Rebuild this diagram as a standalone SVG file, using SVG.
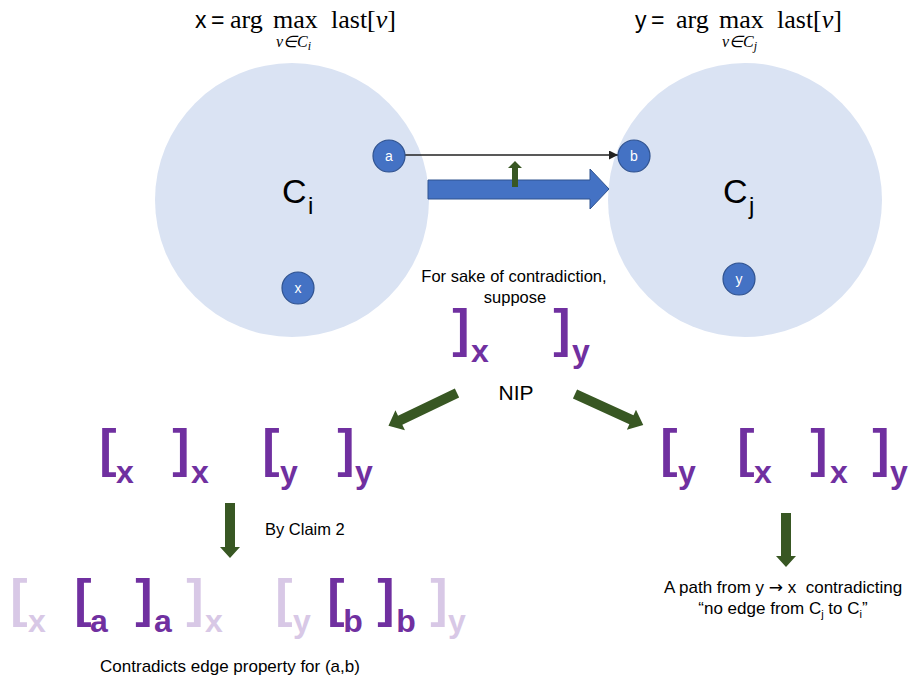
<svg xmlns="http://www.w3.org/2000/svg" width="912" height="685" viewBox="0 0 912 685">
<defs>
<style>
.cl{fill:#DAE3F3}
.nd{fill:#4472C4;stroke:#2F528F;stroke-width:1.2}
.nl{font-family:"Liberation Sans",Arial,sans-serif;font-size:14px;fill:#fff;text-anchor:middle}
.tx{font-family:"Liberation Sans",Arial,sans-serif;font-size:16.5px;fill:#000}
.big{font-family:"Liberation Sans",Arial,sans-serif;font-size:34px;fill:#000}
.mth{font-family:"Liberation Serif","Times New Roman",serif;font-size:26px;fill:#000}
.msb{font-family:"Liberation Serif","Times New Roman",serif;font-size:16px;font-style:italic;fill:#000}
.msn{font-family:"Liberation Sans",Arial,sans-serif;font-size:23px;fill:#000}
.it{font-style:italic}
.br{font-family:"Liberation Sans",Arial,sans-serif;font-weight:bold;font-size:52px;text-anchor:middle}
.sb{font-family:"Liberation Sans",Arial,sans-serif;font-weight:bold;font-size:32px;text-anchor:middle}
.dk{fill:#7030A0}
.lt{fill:#D8C8E6}
.gr{fill:#385723}
</style>
<marker id="ah" viewBox="0 0 10 10" refX="10" refY="5" markerWidth="9" markerHeight="9" markerUnits="userSpaceOnUse" orient="auto">
<path d="M0,0 L10,5 L0,10 z" fill="#222"/>
</marker>
</defs>

<g id="Ci"><circle class="cl" cx="292" cy="200" r="137"/>
<text class="big"><tspan x="282" y="203">C</tspan><tspan x="308" y="214" font-size="24">i</tspan></text></g>
<g id="Cj"><circle class="cl" cx="745" cy="200" r="137"/>
<text class="big"><tspan x="723" y="203">C</tspan><tspan x="749" y="214" font-size="24">j</tspan></text></g>

<g id="connectors">
<line x1="405" y1="155" x2="618" y2="155" stroke="#222" stroke-width="1.3" marker-end="url(#ah)"/>
<polygon points="428,180 590,180 590,169 609,189 590,209 590,199 428,199" fill="#4472C4" stroke="#2F528F" stroke-width="1"/>
<polygon points="512,187 512,168 508,168 515,161 522,168 518,168 518,187" class="gr"/>
<polygon class="gr" transform="translate(457,393) rotate(154.4)" points="0,-5 63,-5 63,-11 76,0 63,11 63,5 0,5"/>
<polygon class="gr" transform="translate(575,394) rotate(24.5)" points="0,-5 62,-5 62,-11 75,0 62,11 62,5 0,5"/>
<polygon class="gr" transform="translate(230,503) rotate(90)" points="0,-5 44,-5 44,-10 55,0 44,10 44,5 0,5"/>
<polygon class="gr" transform="translate(786,513) rotate(90)" points="0,-5 43,-5 43,-10 54,0 43,10 43,5 0,5"/>
</g>

<g id="a"><circle class="nd" cx="389" cy="156" r="16"/><text class="nl" x="389" y="161">a</text></g>
<g id="b"><circle class="nd" cx="634" cy="156" r="16"/><text class="nl" x="634" y="161">b</text></g>
<g id="x"><circle class="nd" cx="298" cy="288" r="16"/><text class="nl" x="298" y="293">x</text></g>
<g id="y"><circle class="nd" cx="739" cy="279" r="16"/><text class="nl" x="739" y="284">y</text></g>

<g id="title-x">
<text class="msn" x="195" y="28">x</text>
<text class="msn" x="211" y="28">=</text>
<text class="mth" x="230" y="28">arg</text>
<text class="mth" x="273" y="28">max</text>
<text class="mth" x="331" y="28">last[<tspan class="it">v</tspan>]</text>
<text class="msb" x="276" y="47">v∈C<tspan font-size="12" dy="3">i</tspan></text>
</g>
<g id="title-y">
<text class="msn" x="635" y="28">y</text>
<text class="msn" x="651" y="28">=</text>
<text class="mth" x="676" y="28">arg</text>
<text class="mth" x="719" y="28">max</text>
<text class="mth" x="777" y="28">last[<tspan class="it">v</tspan>]</text>
<text class="msb" x="722" y="47">v∈C<tspan font-size="12" dy="3">j</tspan></text>
</g>

<g id="suppose">
<text class="tx" text-anchor="middle" x="514" y="282">For sake of contradiction,</text>
<text class="tx" text-anchor="middle" x="515" y="303">suppose</text>
<text class="br dk" x="461" y="346">]</text><text class="sb dk" x="480" y="362">x</text>
<text class="br dk" x="562" y="346">]</text><text class="sb dk" x="581" y="362">y</text>
</g>

<g id="NIP"><text class="tx" style="font-size:21px" text-anchor="middle" x="516" y="400">NIP</text></g>

<g id="left-case">
<text class="br dk" x="108" y="466">[</text><text class="sb dk" x="125" y="483">x</text>
<text class="br dk" x="181" y="466">]</text><text class="sb dk" x="200" y="483">x</text>
<text class="br dk" x="271" y="466">[</text><text class="sb dk" x="289" y="483">y</text>
<text class="br dk" x="346" y="466">]</text><text class="sb dk" x="364" y="483">y</text>
</g>

<g id="right-case">
<text class="br dk" x="669" y="466">[</text><text class="sb dk" x="687" y="483">y</text>
<text class="br dk" x="746" y="466">[</text><text class="sb dk" x="763" y="483">x</text>
<text class="br dk" x="819" y="466">]</text><text class="sb dk" x="839" y="483">x</text>
<text class="br dk" x="881" y="466">]</text><text class="sb dk" x="899" y="483">y</text>
</g>

<g id="claim2"><text class="tx" x="265" y="535">By Claim 2</text></g>

<g id="left-result">
<text class="br lt" x="19" y="616">[</text><text class="sb lt" x="37" y="632">x</text>
<text class="br dk" x="83" y="616">[</text><text class="sb dk" x="99" y="632">a</text>
<text class="br dk" x="144" y="616">]</text><text class="sb dk" x="163" y="632">a</text>
<text class="br lt" x="195" y="616">]</text><text class="sb lt" x="214" y="632">x</text>
<text class="br lt" x="284" y="616">[</text><text class="sb lt" x="302" y="632">y</text>
<text class="br dk" x="336" y="616">[</text><text class="sb dk" x="353" y="632">b</text>
<text class="br dk" x="386" y="616">]</text><text class="sb dk" x="406" y="632">b</text>
<text class="br lt" x="439" y="616">]</text><text class="sb lt" x="457" y="632">y</text>
<text class="tx" style="font-size:17px" text-anchor="middle" x="230" y="672">Contradicts edge property for (a,b)</text>
</g>

<g id="right-result">
<text class="tx" style="font-size:17px" text-anchor="middle" x="783" y="593" xml:space="preserve">A path from y <tspan font-family="DejaVu Sans">→</tspan> x  contradicting</text>
<text class="tx" style="font-size:17px" text-anchor="middle" x="783" y="614">“no edge from C<tspan font-size="11" dy="4">j</tspan><tspan dy="-4"> to C</tspan><tspan font-size="11" dy="4">i</tspan><tspan dy="-4">”</tspan></text>
</g>
</svg>
